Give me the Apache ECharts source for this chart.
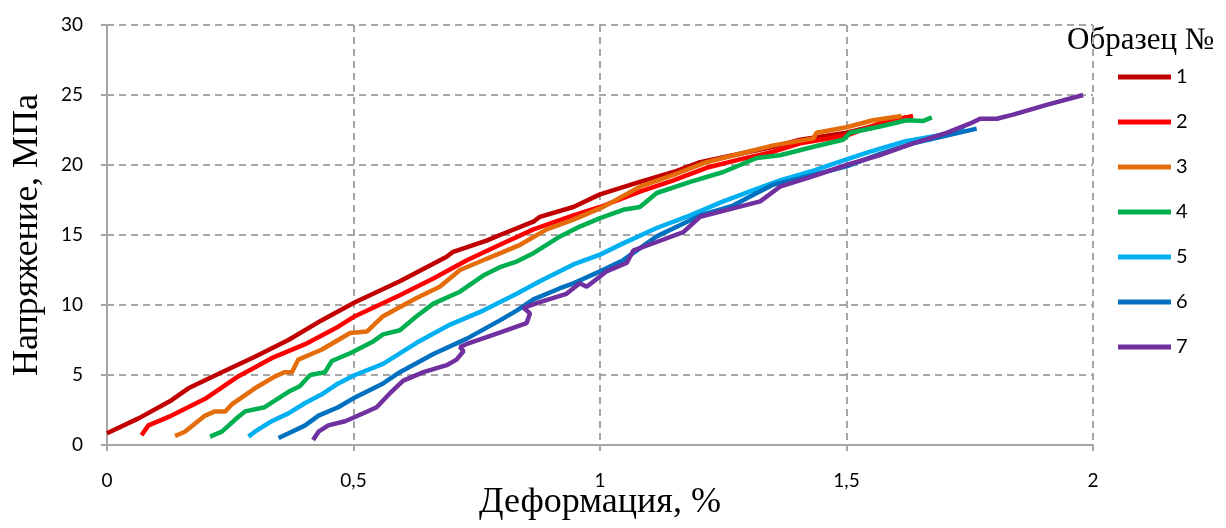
<!DOCTYPE html>
<html>
<head>
<meta charset="utf-8">
<script src="https://cdn.jsdelivr.net/npm/echarts@6/dist/echarts.min.js"></script>
<style>
  html, body { margin: 0; padding: 0; background: #fff; }
  #main { width: 1226px; height: 528px; }
</style>
</head>
<body>
<div id="main"></div>
<script>
// образцы 1..7: [деформация %, напряжение МПа]
const sample1 = [[0,0.84],[0.064,1.9],[0.131,3.2],[0.165,4.05],[0.233,5.2],[0.300,6.3],[0.368,7.5],[0.435,8.9],[0.503,10.2],[0.594,11.7],[0.689,13.45],[0.702,13.8],[0.770,14.6],[0.797,15.0],[0.865,15.95],[0.878,16.3],[0.946,17.0],[1.0,17.9],[1.081,18.8],[1.149,19.5],[1.203,20.2],[1.270,20.7],[1.352,21.3],[1.406,21.8],[1.5,22.3],[1.568,22.9],[1.62,23.4]];
const sample2 = [[0.070,0.7],[0.084,1.4],[0.131,2.1],[0.199,3.3],[0.266,4.9],[0.334,6.2],[0.402,7.2],[0.469,8.45],[0.503,9.2],[0.594,10.7],[0.662,11.9],[0.730,13.2],[0.797,14.3],[0.865,15.4],[0.946,16.4],[1.0,17.0],[1.081,18.1],[1.149,18.9],[1.216,19.8],[1.284,20.4],[1.352,20.95],[1.406,21.55],[1.5,22.1],[1.568,23.0],[1.635,23.5]];
const sample3 = [[0.138,0.64],[0.158,0.95],[0.199,2.1],[0.219,2.4],[0.240,2.4],[0.253,2.9],[0.300,4.05],[0.341,4.9],[0.360,5.2],[0.375,5.2],[0.388,6.1],[0.435,6.8],[0.469,7.5],[0.493,8.0],[0.527,8.1],[0.560,9.2],[0.628,10.5],[0.675,11.3],[0.716,12.5],[0.770,13.3],[0.838,14.3],[0.892,15.4],[0.946,16.1],[1.0,16.9],[1.027,17.4],[1.081,18.45],[1.149,19.3],[1.216,20.2],[1.284,20.8],[1.352,21.4],[1.433,21.9],[1.439,22.3],[1.5,22.7],[1.554,23.2],[1.612,23.5]];
const sample4 = [[0.209,0.6],[0.233,0.95],[0.266,2.0],[0.280,2.4],[0.320,2.7],[0.368,3.8],[0.391,4.2],[0.412,5.0],[0.442,5.2],[0.456,6.0],[0.493,6.55],[0.540,7.4],[0.560,7.9],[0.594,8.2],[0.628,9.2],[0.662,10.1],[0.716,10.95],[0.763,12.1],[0.797,12.7],[0.831,13.1],[0.865,13.7],[0.919,14.9],[0.959,15.6],[1.0,16.2],[1.047,16.8],[1.081,17.0],[1.115,18.0],[1.183,18.8],[1.250,19.5],[1.318,20.5],[1.365,20.7],[1.433,21.3],[1.493,21.8],[1.507,22.3],[1.568,22.75],[1.622,23.2],[1.656,23.15],[1.673,23.4]];
const sample5 = [[0.287,0.6],[0.300,0.95],[0.334,1.7],[0.368,2.26],[0.402,3.0],[0.435,3.6],[0.469,4.4],[0.503,5.0],[0.560,5.8],[0.628,7.3],[0.696,8.6],[0.763,9.6],[0.831,10.8],[0.878,11.7],[0.946,12.9],[1.0,13.6],[1.047,14.4],[1.115,15.5],[1.183,16.4],[1.250,17.4],[1.318,18.3],[1.365,18.9],[1.433,19.6],[1.5,20.4],[1.548,20.95],[1.62,21.7],[1.70,22.2],[1.74,22.5]];
const sample6 = [[0.348,0.5],[0.375,0.95],[0.402,1.4],[0.429,2.1],[0.469,2.7],[0.503,3.4],[0.560,4.4],[0.594,5.2],[0.662,6.5],[0.730,7.6],[0.797,8.9],[0.831,9.6],[0.865,10.4],[0.919,11.2],[0.946,11.55],[1.0,12.4],[1.047,13.2],[1.115,14.9],[1.162,15.7],[1.203,16.4],[1.270,17.1],[1.318,18.0],[1.352,18.6],[1.406,19.05],[1.5,19.9],[1.568,20.8],[1.635,21.55],[1.703,22.1],[1.764,22.6]];
const sample7 = [[0.418,0.36],[0.429,0.95],[0.449,1.4],[0.483,1.7],[0.503,2.0],[0.547,2.7],[0.574,3.7],[0.601,4.6],[0.642,5.2],[0.689,5.7],[0.709,6.1],[0.723,6.7],[0.716,7.0],[0.736,7.3],[0.770,7.7],[0.811,8.2],[0.851,8.7],[0.858,9.4],[0.845,9.8],[0.878,10.2],[0.932,10.8],[0.959,11.55],[0.973,11.3],[1.013,12.4],[1.054,13.0],[1.068,13.9],[1.115,14.5],[1.169,15.2],[1.203,16.3],[1.270,16.9],[1.325,17.4],[1.365,18.45],[1.433,19.2],[1.5,20.0],[1.568,20.7],[1.635,21.55],[1.703,22.3],[1.750,22.95],[1.771,23.3],[1.805,23.3],[1.838,23.6],[1.906,24.3],[1.980,25.0]];

const names = ["1", "2", "3", "4", "5", "6", "7"];
const samples = [sample1, sample2, sample3, sample4, sample5, sample6, sample7];
const colors = ["#C00000", "#FF0000", "#E46C0A", "#00B050", "#00B0F0", "#0070C0", "#7030A0"];

const gridColor = "#a6a6a6";
const tickFont = "Lato";
const titleFont = "Liberation Serif";

const option = {
  animation: false,
  grid: {
    left: 107,
    right: 133,
    top: 25,
    bottom: 83,
    outerBoundsMode: "none",
  },
  graphic: [
    {
      type: "text",
      left: 1067,
      top: 25,
      style: {
        text: "Образец №",
        font: "31px " + titleFont,
        fill: "#000",
      },
    },
  ],
  legend: {
    orient: "vertical",
    left: 1113,
    top: 62,
    icon: "rect",
    itemWidth: 53,
    itemHeight: 5,
    itemGap: 25,
    textStyle: {
      fontFamily: tickFont,
      fontSize: 20,
      lineHeight: 20,
      color: "#000",
    },
    data: names,
  },
  xAxis: {
    type: "value",
    min: 0,
    max: 2,
    interval: 0.5,
    name: "Деформация, %",
    nameLocation: "middle",
    nameGap: 40,
    nameMoveOverlap: false,
    nameTextStyle: {
      fontFamily: titleFont,
      fontSize: 36,
      color: "#000",
    },
    axisLine: { show: true, lineStyle: { color: gridColor, width: 2 } },
    axisTick: { show: true, length: 6, lineStyle: { color: gridColor, width: 2 } },
    axisLabel: {
      margin: 26,
      fontFamily: tickFont,
      fontSize: 19,
      color: "#000",
      formatter: (v) => String(v).replace(".", ","),
    },
    splitLine: {
      show: true,
      lineStyle: { color: gridColor, width: 2, type: [7, 5] },
    },
  },
  yAxis: {
    type: "value",
    min: 0,
    max: 30,
    interval: 5,
    name: "Напряжение, МПа",
    nameLocation: "middle",
    nameGap: 61,
    nameMoveOverlap: false,
    nameTextStyle: {
      fontFamily: titleFont,
      fontSize: 36,
      color: "#000",
    },
    axisLine: { show: true, lineStyle: { color: gridColor, width: 2 } },
    axisTick: { show: true, length: 6, lineStyle: { color: gridColor, width: 2 } },
    axisLabel: {
      margin: 24,
      fontFamily: tickFont,
      fontSize: 19,
      color: "#000",
    },
    splitLine: {
      show: true,
      lineStyle: { color: gridColor, width: 2, type: [7, 5] },
    },
  },
  series: samples.map((data, i) => ({
    name: names[i],
    type: "line",
    data: data,
    showSymbol: false,
    smooth: false,
    color: colors[i],
    lineStyle: { color: colors[i], width: 4.5 },
  })),
};

var chartDom = document.getElementById("main");
var myChart = echarts.init(chartDom);
myChart.setOption(option);
</script>
</body>
</html>
